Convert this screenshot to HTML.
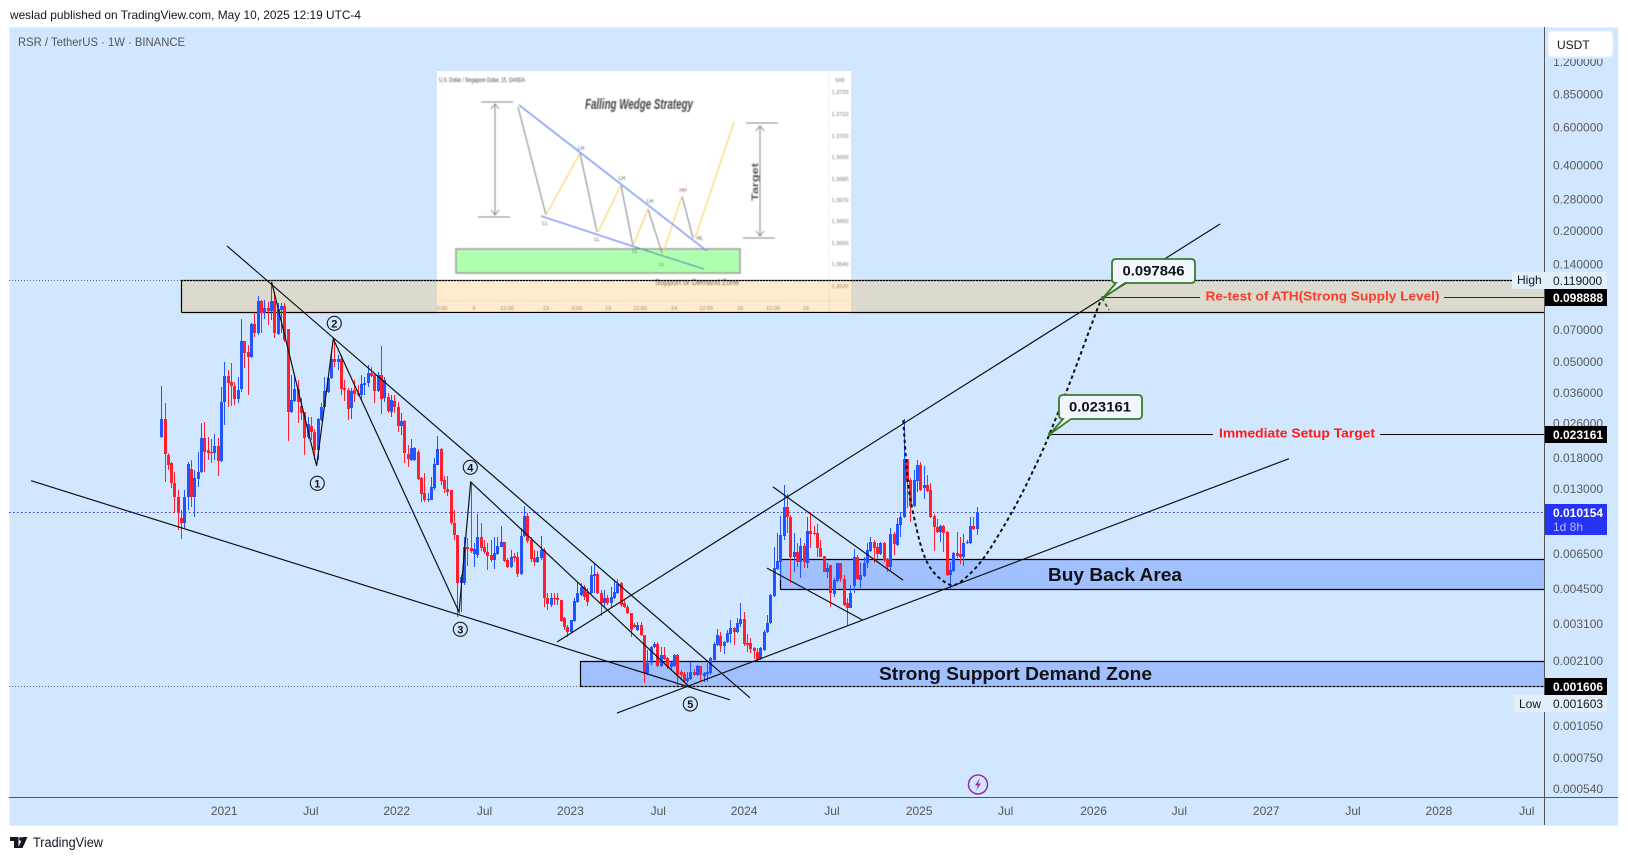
<!DOCTYPE html>
<html lang="en">
<head>
<meta charset="utf-8">
<title>RSR / TetherUS 1W chart</title>
<style>
html,body{margin:0;padding:0;background:#fff;width:1628px;height:860px;overflow:hidden}
svg{display:block}
text{font-family:"Liberation Sans",sans-serif}
</style>
</head>
<body>
<svg xmlns="http://www.w3.org/2000/svg" width="1628" height="860" viewBox="0 0 1628 860">
<defs>
<filter id="soft" x="-5%" y="-5%" width="110%" height="110%"><feGaussianBlur stdDeviation="0.4"/></filter>
</defs>
<rect x="0" y="0" width="1628" height="860" fill="#ffffff"/>
<text x="10" y="19" font-size="12" fill="#131722" textLength="351" lengthAdjust="spacingAndGlyphs">weslad published on TradingView.com, May 10, 2025 12:19 UTC-4</text>
<rect x="9.5" y="27.5" width="1608.5" height="798" fill="#d1e7ff" stroke="#e9eff6"/>
<text x="18" y="46" font-size="12" fill="#555" textLength="167" lengthAdjust="spacingAndGlyphs">RSR / TetherUS · 1W · BINANCE</text>

<g>
<rect x="437" y="71" width="414" height="243" fill="#ffffff"/>
<g filter="url(#soft)">
<path d="M829 71V314M437 300.7H851" stroke="#eeeeee" fill="none"/>
<rect x="456" y="249" width="284" height="24" fill="#b0ffb0" stroke="#999" stroke-width="1.5"/>
<path d="M481 102H513M478 217H510M495 104V215M491 109L495 104L499 109M491 210L495 215L499 210M746 123H778M743 238H775M760 126V236M756 131L760 126L764 131M756 231L760 236L764 231" stroke="#888" stroke-width="1" fill="none"/>
<path d="M518 107L546 215M580 153L597 232M621 185L633 246M648 209L662 253M682 196L693 238" stroke="#777" stroke-width="0.9" fill="none"/>
<path d="M546 215L580 153M598 232L621 185M633 246L648 209M663 253L682 196M695 238L734 122" stroke="#fccf5e" stroke-width="1.1" fill="none"/>
<path d="M519 105L707 251M541 216L635 247" stroke="#6f8ff5" stroke-width="1.4" fill="none"/>
<path d="M635 247L704 269" stroke="#3d9ca5" stroke-width="1.2" fill="none"/>
<text x="639" y="109" font-size="15" font-style="italic" font-weight="bold" fill="#444" text-anchor="middle" textLength="108" lengthAdjust="spacingAndGlyphs">Falling Wedge Strategy</text>
<text x="439" y="82" font-size="6" fill="#444" textLength="86" lengthAdjust="spacingAndGlyphs">U.S. Dollar / Singapore Dollar, 15, OANDA</text>
<text transform="translate(758,182) rotate(-90)" font-size="9" font-weight="bold" fill="#555" text-anchor="middle" textLength="38" lengthAdjust="spacingAndGlyphs">Target</text>
<text x="697" y="285" font-size="8" fill="#555" text-anchor="middle" textLength="84" lengthAdjust="spacingAndGlyphs">Support or Demand Zone</text>
<g font-size="5" fill="#555" text-anchor="middle">
<text x="545" y="225">LL</text><text x="581" y="150">LH</text><text x="597" y="241">LL</text><text x="622" y="180">LH</text><text x="635" y="253">LL</text><text x="650" y="203">LH</text><text x="662" y="266">LL</text><text x="683" y="192" fill="#a05a40">HH</text><text x="700" y="240">HL</text>
</g>
<g font-size="5.5" fill="#777" text-anchor="middle">
<text x="840" y="82">500</text><text x="840" y="94">1.3720</text><text x="840" y="116">1.3710</text><text x="840" y="138">1.3700</text><text x="840" y="159">1.3690</text><text x="840" y="181">1.3680</text><text x="840" y="202">1.3670</text><text x="840" y="223">1.3660</text><text x="840" y="245">1.3650</text><text x="840" y="266">1.3640</text><text x="840" y="288">1.3630</text>
<text x="442" y="310">0:00</text><text x="474" y="310">9</text><text x="507" y="310">12:00</text><text x="546" y="310">13</text><text x="577" y="310">0:00</text><text x="608" y="310">13</text><text x="640" y="310">12:00</text><text x="674" y="310">14</text><text x="706" y="310">12:00</text><text x="740" y="310">15</text><text x="773" y="310">12:00</text><text x="806" y="310">16</text>
</g>
</g>
</g>

<g id="zones"></g>
<g id="dotted"></g>
<g id="candles" shape-rendering="crispEdges"></g>
<g id="trends"></g>

<g fill="none" stroke="#1a1a1a" stroke-width="1.1">
<circle cx="317.3" cy="483.3" r="7"/>
<circle cx="334.3" cy="323.3" r="7"/>
<circle cx="460.3" cy="629.3" r="7"/>
<circle cx="470.3" cy="467.3" r="7"/>
<circle cx="690.3" cy="704" r="7"/>
</g>
<g font-size="11" fill="#111" text-anchor="middle" font-weight="bold">
<text x="317.3" y="487.3">1</text>
<text x="334.3" y="327.3">2</text>
<text x="460.3" y="633.3">3</text>
<text x="470.3" y="471.3">4</text>
<text x="690.3" y="708">5</text>
</g>

<text x="1115" y="581" font-size="18" font-weight="bold" fill="#111" text-anchor="middle" textLength="134" lengthAdjust="spacingAndGlyphs">Buy Back Area</text>
<text x="1015.5" y="680" font-size="18" font-weight="bold" fill="#111" text-anchor="middle" textLength="273" lengthAdjust="spacingAndGlyphs">Strong Support Demand Zone</text>
<text x="1205.5" y="300.5" font-size="13" font-weight="bold" fill="#ff3b2a" textLength="234" lengthAdjust="spacingAndGlyphs">Re-test of ATH(Strong Supply Level)</text>
<text x="1219" y="437.5" font-size="13" font-weight="bold" fill="#ff1a1a" textLength="156" lengthAdjust="spacingAndGlyphs">Immediate Setup Target</text>

<g>
<path d="M1116 259H1191Q1195 259 1195 263V279Q1195 283 1191 283H1125L1103 298L1116 283H1116Q1112 283 1112 279V263Q1112 259 1116 259Z" fill="#f0f7ff" stroke="#3c7a28" stroke-width="1.8"/>
<circle cx="1103" cy="298" r="2" fill="#2e7d1f"/>
<text x="1153.5" y="275.5" font-size="13.5" font-weight="bold" fill="#111" text-anchor="middle" textLength="62" lengthAdjust="spacingAndGlyphs">0.097846</text>
</g>
<g>
<path d="M1063 395H1138Q1142 395 1142 399V415Q1142 419 1138 419H1071L1050 434L1063 419Q1059 419 1059 415V399Q1059 395 1063 395Z" fill="#f0f7ff" stroke="#3c7a28" stroke-width="1.8"/>
<circle cx="1050" cy="434" r="2" fill="#2e7d1f"/>
<text x="1100" y="411.5" font-size="13.5" font-weight="bold" fill="#111" text-anchor="middle" textLength="62" lengthAdjust="spacingAndGlyphs">0.023161</text>
</g>

<g>
<circle cx="978" cy="784.5" r="9.5" fill="none" stroke="#9c27b0" stroke-width="1.5"/>
<path d="M980 778L975 785.5H978L976 791L981 783.5H978Z" fill="#9c27b0"/>
</g>

<rect x="1545" y="28" width="72.5" height="769" fill="#d1e7ff"/>
<g id="priceTicks" font-size="12" fill="#5a5a5a"></g>
<g id="timeTicks" font-size="12" fill="#555"></g>
<path d="M9 797.5H1618" stroke="#555" fill="none"/>
<path d="M1544.5 27V825" stroke="#555" fill="none"/>

<rect x="1545" y="28" width="72.5" height="31" fill="#d1e7ff"/>
<rect x="1548" y="31" width="65" height="26" rx="4" fill="#ffffff" stroke="#e6eef8"/>
<text x="1557" y="49" font-size="12" fill="#131722">USDT</text>

<g>
<rect x="1512" y="272" width="95" height="17" fill="#e3eefb"/>
<text x="1517" y="284" font-size="12" fill="#131722">High</text>
<text x="1553" y="285" font-size="12" fill="#131722">0.119000</text>
</g>
<g>
<rect x="1514" y="695" width="93" height="17" fill="#e3eefb"/>
<text x="1519" y="708" font-size="12" fill="#131722">Low</text>
<text x="1553" y="708" font-size="12" fill="#131722">0.001603</text>
</g>
<g font-size="12" font-weight="bold" fill="#ffffff">
<rect x="1545" y="289" width="62" height="17" fill="#000"/>
<text x="1553" y="302">0.098888</text>
<rect x="1545" y="426" width="62" height="17" fill="#000"/>
<text x="1553" y="439">0.023161</text>
<rect x="1545" y="678" width="62" height="17" fill="#000"/>
<text x="1553" y="691">0.001606</text>
<rect x="1545" y="504" width="62" height="31" fill="#2533f5"/>
<text x="1553" y="517">0.010154</text>
<text x="1553" y="531" font-weight="normal" fill="#b6bcff">1d 8h</text>
</g>

<g>
<path d="M10 837H18.5V848H14V841H10Z" fill="#131722"/>
<circle cx="21" cy="839" r="1.9" fill="#131722"/>
<path d="M23 837H27.5L22.5 848H18Z" fill="#131722"/>
<text x="33" y="847" font-size="13.5" fill="#131722" textLength="70" lengthAdjust="spacingAndGlyphs">TradingView</text>
</g>
</svg>

<script>
const priceTickValues = [1.2,.85,.6,.4,.28,.2,.14,.07,.05,.036,.026,.018,.013,.0065,.0045,.0031,.0021,.00105,.00075,.00054];
const priceTickLabels = ["1.200000","0.850000","0.600000","0.400000","0.280000","0.200000","0.140000","0.070000","0.050000","0.036000","0.026000","0.018000","0.013000","0.006500","0.004500","0.003100","0.002100","0.001050","0.000750","0.000540"];
const timeTickValues = [2021.007,2021.5,2022,2022.5,2023,2023.5,2024,2024.5,2025.008,2025.5,2026.012,2026.5,2027.006,2027.5,2028,2028.5];
const timeTickLabels = ["2021","Jul","2022","Jul","2023","Jul","2024","Jul","2025","Jul","2026","Jul","2027","Jul","2028","Jul"];

const firstBarYear = 2020.647;
const barYears = 7 / 365.25;

const opens = [
.0224,.0271,.0186,.0171,.0138,.0118,.0095,.009,.0119,.016,
.0119,.0144,.0155,.0222,.0195,.0191,.0189,.0204,.0174,.0325,
.0428,.0402,.0385,.0336,.0373,.062,.0552,.0523,.0743,.0676,
.0948,.0835,.088,.0853,.0948,.0669,.0862,.0898,.0704,.0292,
.0329,.0373,.0312,.0292,.0224,.0251,.0236,.0195,.0268,.0308,
.0361,.0419,.0512,.0497,.0512,.0377,.0369,.0305,.0369,.0357,
.035,.0389,.0397,.0442,.0433,.0365,.0433,.0339,.0343,.0292,
.0329,.0308,.0251,.0265,.0187,.0176,.0176,.0191,.0145,.0124,
.0115,.0115,.0131,.0167,.0197,.0142,.0129,.0128,.009,.00793,
.00476,.00476,.00698,.0069,.00648,.00641,.00777,.00698,.00661,.00641,
.00607,.00648,.00698,.00736,.00607,.00564,.00634,.00627,.00524,.00785,
.0097,.00751,.00621,.00595,.00621,.00675,.00406,.00377,.00406,.00406,
.00397,.00328,.00299,.00283,.00318,.00389,.0042,.00457,.00433,.00429,
.00513,.00524,.00429,.00385,.00406,.00385,.00406,.00429,.00476,.00385,
.00369,.00346,.00305,.00289,.00305,.00274,.00184,.00204,.00242,.0025,
.00198,.00222,.00215,.00196,.00198,.00222,.00185,.00182,.00168,.00172,
.00185,.0018,.00198,.00178,.00182,.00184,.0021,.00247,.00271,.00245,
.00255,.00277,.00295,.00283,.00308,.00325,.00252,.00252,.00239,.00229,
.00213,.00234,.00283,.00311,.00415,.00552,.00595,.00785,.0107,.0096,
.00627,.00661,.00595,.00705,.00589,.00827,.0081,.0081,.0069,.00634,
.00535,.00577,.00424,.00486,.00589,.00497,.00385,.00365,.00461,.00627,
.00491,.00513,.00589,.00668,.00736,.00698,.00648,.00728,.00614,.00564,
.00802,.00713,.00882,.0096,.0178,.0142,.0108,.0141,.0167,.0131,
.0134,.0128,.0097,.00863,.00818,.00872,.00818,.00519,.0054,.00654,
.00648,.00627,.00728,.00728,.00872,.00845];
const highs = [
.0385,.0322,.0189,.0172,.0155,.0128,.0103,.0128,.0172,.0176,
.0158,.0191,.026,.0262,.0224,.0219,.0231,.0222,.0381,.0497,
.0456,.0491,.0402,.0424,.0783,.062,.0595,.0751,.0835,.0999,
.0958,.0958,.0938,.116,.104,.0928,.0928,.0928,.0704,.0433,
.0433,.041,.0339,.0292,.0277,.0277,.0244,.0274,.0322,.0424,
.0433,.0546,.0627,.0535,.0535,.041,.0377,.0377,.041,.0389,
.0433,.0424,.0481,.0471,.0442,.0447,.0588,.0424,.0357,.035,
.035,.0325,.0289,.0268,.0206,.0219,.0202,.0195,.0147,.0153,
.0124,.0147,.018,.0226,.02,.0148,.0148,.0128,.0103,.00793,
.00519,.00777,.00768,.0139,.00728,.0099,.009,.00751,.00728,.00751,
.00777,.00777,.00872,.00736,.00621,.00675,.00654,.00661,.00854,.0108,
.01,.00777,.00675,.00668,.00785,.0069,.00429,.00429,.00429,.00429,
.00397,.00332,.00305,.00321,.00406,.00481,.00476,.00466,.00452,.0057,
.00589,.00535,.00442,.00442,.0042,.00457,.00486,.00497,.00481,.00397,
.00377,.00346,.00311,.00315,.00315,.00274,.00234,.00245,.00255,.00255,
.00242,.00242,.00218,.00206,.00225,.00225,.00189,.00185,.00185,.00206,
.00191,.002,.00198,.00185,.00204,.00218,.00255,.00292,.00283,.00257,
.00289,.00321,.00299,.00328,.00385,.0035,.00277,.00266,.00242,.00239,
.00242,.00289,.00339,.00424,.00698,.0081,.0097,.0134,.0122,.0098,
.0081,.00728,.00768,.00728,.0096,.0101,.00872,.00891,.00751,.00634,
.00589,.00577,.00502,.00589,.00589,.00519,.00406,.00466,.00683,.00641,
.00589,.00627,.00728,.00777,.00751,.00728,.00736,.00736,.00621,.00854,
.00818,.0095,.0101,.0271,.0178,.0145,.0158,.0176,.0172,.0165,
.015,.0138,.0099,.0094,.00882,.00882,.00827,.00595,.00661,.00818,
.00777,.00802,.00751,.0096,.0096,.0107];
const lows = [
.0222,.0139,.0158,.0131,.01,.00835,.0076,.00854,.0103,.0107,
.0096,.0132,.0153,.0155,.0176,.0171,.0176,.0148,.0172,.0254,
.0308,.0312,.0315,.0322,.0361,.0466,.035,.0518,.0648,.0662,
.0676,.0783,.0735,.0775,.0641,.0662,.0676,.0614,.0215,.0289,
.0325,.026,.0268,.0186,.0219,.0217,.0176,.0176,.0265,.0305,
.0357,.0415,.0471,.0456,.035,.0329,.0268,.0271,.0325,.0347,
.0332,.035,.0381,.0424,.0322,.0361,.0286,.0325,.0289,.0277,
.0289,.0236,.0229,.0171,.0163,.0174,.0174,.0142,.0112,.0113,
.0113,.0115,.0128,.0167,.0135,.0124,.012,.00882,.00751,.00332,
.0035,.00466,.0057,.00654,.00564,.00621,.00668,.00648,.00546,.00595,
.00552,.00641,.00698,.00595,.00558,.00558,.00595,.00507,.00519,.00777,
.00728,.00595,.0057,.00589,.00607,.00369,.00357,.00369,.00377,.00377,
.00315,.00289,.00268,.0028,.00315,.00385,.00415,.00397,.00373,.00424,
.00429,.00424,.00335,.00365,.00377,.00365,.00402,.00424,.00369,.00365,
.00342,.00268,.00295,.00286,.00271,.00165,.0018,.002,.00239,.00196,
.00196,.0021,.00191,.00189,.00196,.0016,.0017,.00167,.00165,.0017,
.00178,.00178,.00167,.00167,.00167,.0018,.00208,.00245,.00229,.00225,
.00252,.00252,.00247,.0028,.00299,.00245,.00229,.00227,.00213,.00208,
.0021,.00232,.0028,.00308,.00411,.00546,.00491,.00751,.0081,.00476,
.00535,.00564,.00502,.00558,.00558,.0069,.00793,.00627,.00627,.00535,
.00502,.00369,.00411,.00481,.00481,.00373,.00302,.00365,.00429,.00491,
.00452,.00507,.00558,.00661,.00589,.00614,.00641,.00595,.00535,.00546,
.00641,.00705,.00777,.0095,.0106,.0091,.0107,.0125,.0127,.0116,
.0125,.0095,.00668,.0081,.00736,.00661,.00513,.00447,.00535,.00621,
.00583,.0057,.0072,.0072,.00835,.00793];
const closes = [
.0271,.0187,.0167,.0138,.0118,.01,.009,.0119,.0169,.0119,
.0145,.0155,.0222,.0191,.0189,.0189,.0204,.0174,.0325,.0428,
.0397,.0385,.0336,.0369,.062,.0546,.0523,.0743,.0676,.0948,
.0835,.088,.0853,.0948,.0676,.0871,.0898,.0627,.0292,.0332,
.0373,.0325,.0289,.0222,.0257,.0236,.0195,.0271,.0308,.0365,
.0419,.0512,.0497,.0512,.0373,.0369,.0301,.0365,.0354,.035,
.0393,.0397,.0442,.0428,.0365,.0433,.0336,.041,.0295,.0332,
.0308,.0251,.0265,.0189,.0178,.02,.02,.0144,.0123,.0115,
.0116,.0132,.0169,.0197,.0141,.0129,.0125,.009,.00793,.00476,
.00507,.00698,.00683,.00668,.00683,.00777,.0069,.00661,.00634,.00607,
.00654,.00705,.00736,.00601,.00564,.00627,.00621,.00524,.00785,.0097,
.00743,.00614,.00595,.00627,.00675,.00406,.00381,.00406,.00402,.00397,
.00318,.00299,.00283,.00321,.00393,.00429,.00457,.00411,.00389,.00519,
.00524,.00429,.00385,.00406,.00385,.00411,.00433,.00471,.00377,.00369,
.00346,.00289,.00299,.00305,.00274,.00184,.00204,.00242,.0025,.00198,
.00222,.00213,.00196,.00204,.00222,.0018,.0018,.00168,.00174,.00185,
.0018,.00198,.0018,.00184,.00185,.00215,.0025,.00274,.00245,.00255,
.0028,.00295,.00283,.00311,.00325,.0025,.00247,.00237,.00232,.0021,
.00239,.00283,.00311,.0042,.00558,.00601,.00793,.0107,.0096,.00627,
.00661,.00595,.00705,.00595,.00827,.00802,.00802,.0069,.00627,.00535,
.00558,.00429,.00491,.00589,.00497,.00377,.00365,.00429,.00627,.00497,
.00519,.00589,.00675,.00736,.0069,.00648,.00728,.00607,.00564,.00802,
.0072,.00891,.0096,.0178,.0139,.0108,.0142,.0167,.0128,.0134,
.0127,.0096,.00863,.00818,.00872,.0081,.00519,.00546,.00654,.00634,
.00627,.00728,.00736,.00872,.00845,.010154];

const zoneNames = ["supply-zone","buy-back-zone","demand-zone"];
const zoneStartYears = [2020.76,2024.207,2023.057];
const zoneTopPrices = [.119,.00614,.00208];
const zoneBottomPrices = [.0844,.00447,.0016];
const zoneFills = ["rgba(255,178,60,.25)","#a0c0ff","#a0c0ff"];

const trendStartYears = [2021.023,2019.895,2022.923,2023.268,2024.166,2024.132];
const trendStartPrices = [.17,.0141,.00255,.0012,.0132,.00558];
const trendEndYears = [2024.034,2023.919,2026.74,2027.137,2024.915,2024.684];
const trendEndPrices = [.00141,.00138,.2145,.0178,.00491,.00321];

const waveYears = [2021.28,2021.539,2021.635,2022.359,2022.426,2023.683];
const wavePrices = [.116,.0165,.0634,.0035,.0139,.00159];

const forecastYears = [2024.916,2024.926,2024.944,2024.972,2025.024,2025.082,2025.168,2025.214,2025.283,2025.375,2025.473,2025.583,2025.721,2025.761,2025.876,2026.037,2026.06];
const forecastPrices = [.0268,.0206,.0132,.01,.00661,.00535,.00471,.00461,.00507,.00607,.0081,.0115,.0195,.0234,.0397,.0889,.0978];
const forecastTailYears = [2026.06,2026.101];
const forecastTailPrices = [.0978,.0862];

const highPrice = .119;
const lowPrice = .001606;
const lastPrice = .010154;
const supplyLevel = .098888;
const targetLevel = .023161;

const NS = "http://www.w3.org/2000/svg";
const priceY = p => 127 + 94.3 * Math.log(0.6 / p);
const timeX = t => 223 + (t - 2021) * 173.7;

function make(tag, parent, attrs) {
  const el = document.createElementNS(NS, tag);
  for (const k in attrs) el.setAttribute(k, attrs[k]);
  parent.appendChild(el);
  return el;
}

const zonesG = document.getElementById("zones");
const dottedG = document.getElementById("dotted");
const candlesG = document.getElementById("candles");
const trendsG = document.getElementById("trends");
const priceG = document.getElementById("priceTicks");
const timeG = document.getElementById("timeTicks");

zoneNames.forEach((name, i) => {
  const x = Math.round(timeX(zoneStartYears[i])) + 0.5;
  const top = Math.round(priceY(zoneTopPrices[i])) + 0.5;
  const bottom = Math.round(priceY(zoneBottomPrices[i])) + 0.5;
  const r = make("rect", zonesG, {x: x, y: top, width: 1544 - x, height: bottom - top, fill: zoneFills[i]});
  
  
  const b = make("path", zonesG, {d: "M1544 " + top + "H" + x + "V" + bottom, fill: "none", stroke: "#000", "stroke-width": 1.2});
  
  
  const l = make("path", zonesG, {d: "M" + x + " " + bottom + "H1544", fill: "none", stroke: "#000", "stroke-width": 1.2, "stroke-dasharray": i === 2 ? "3 1" : "none"});
  
  
});

const highLine = make("path", dottedG, {d: "M9 " + (Math.round(priceY(highPrice)) + .5) + "H1512", stroke: "#666", "stroke-dasharray": "1 2", fill: "none"});


const lowLine = make("path", dottedG, {d: "M9 " + (Math.round(priceY(lowPrice)) + .5) + "H580", stroke: "#666", "stroke-dasharray": "1 2", fill: "none"});


const lastLine = make("path", dottedG, {d: "M9 " + (Math.round(priceY(lastPrice)) + .5) + "H1544", stroke: "#2a2aff", "stroke-dasharray": "1.5 2.5", fill: "none"});



opens.forEach((o, i) => {
  const c = closes[i];
  const up = c >= o;
  const color = up ? "#2255ff" : "#ff1f2f";
  const x = Math.floor(timeX(firstBarYear + i * barYears));
  const hy = Math.round(priceY(highs[i]));
  const ly = Math.round(priceY(lows[i]));
  const a = Math.round(priceY(Math.max(o, c)));
  const b = Math.round(priceY(Math.min(o, c)));
  const wick = make("rect", candlesG, {x: x, y: hy, width: 1, height: Math.max(1, ly - hy), fill: color});
  
  
  const body = make("rect", candlesG, {x: x - 1, y: a, width: 3, height: Math.max(1, b - a), fill: color});
  
  
});

trendStartYears.forEach((t, i) => {
  const ln = make("line", trendsG, {x1: timeX(t), y1: priceY(trendStartPrices[i]), x2: timeX(trendEndYears[i]), y2: priceY(trendEndPrices[i]), stroke: "#111", "stroke-width": 1.2});
  
  
});

const wave = make("polyline", trendsG, {points: waveYears.map((t, i) => timeX(t) + "," + priceY(wavePrices[i])).join(" "), fill: "none", stroke: "#111", "stroke-width": 1.2});



let d = "";
forecastYears.forEach((t, i) => {
  const x = timeX(t), y = priceY(forecastPrices[i]);
  if (i === 0) d += "M" + x + " " + y;
  else if (i === forecastYears.length - 1) d += "L" + x + " " + y;
  else {
    const nx = timeX(forecastYears[i + 1]), ny = priceY(forecastPrices[i + 1]);
    d += "Q" + x + " " + y + " " + (x + nx) / 2 + " " + (y + ny) / 2;
  }
});
const forecast = make("path", trendsG, {d: d, fill: "none", stroke: "#111", "stroke-width": 2, "stroke-dasharray": "3.5 3"});


const tail = make("line", trendsG, {x1: timeX(forecastTailYears[0]), y1: priceY(forecastTailPrices[0]), x2: timeX(forecastTailYears[1]), y2: priceY(forecastTailPrices[1]), stroke: "#333", "stroke-width": 1.5, "stroke-dasharray": "3.5 3"});



const supplyY = Math.round(priceY(supplyLevel)) + 0.5;
const supplyLine = make("path", trendsG, {d: "M1103 " + supplyY + "H1200M1444 " + supplyY + "H1544", stroke: "#3a2a1a", "stroke-width": 1.1, fill: "none"});


const targetY = Math.round(priceY(targetLevel)) + 0.5;
const targetLine = make("path", trendsG, {d: "M1052 " + targetY + "H1213M1380 " + targetY + "H1544", stroke: "#000", "stroke-width": 1.1, fill: "none"});



priceTickValues.forEach((v, i) => {
  const t = make("text", priceG, {x: 1553, y: priceY(v) + 4.5});
  t.textContent = priceTickLabels[i];
  
  
});
timeTickValues.forEach((v, i) => {
  const t = make("text", timeG, {x: timeX(v) + (timeTickLabels[i] === "Jul" ? 1 : 0), y: 815, "text-anchor": "middle"});
  t.textContent = timeTickLabels[i];
  
  
});
</script>
</body>
</html>
